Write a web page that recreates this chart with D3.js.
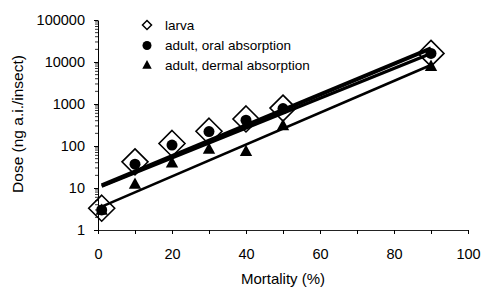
<!DOCTYPE html>
<html><head><meta charset="utf-8">
<script src="https://cdn.jsdelivr.net/npm/d3@7"></script>
<style>
body{margin:0;background:#fff;}
svg text{font-family:"Liberation Sans",Arial,sans-serif;fill:#000;}
</style></head>
<body><svg id="c" width="481" height="288"></svg>
<script>
const mortality = [1, 10, 20, 30, 40, 50, 90];
const larva = [3.3, 42, 115, 225, 440, 800, 16000];
const adultOral = [3.0, 37, 105, 220, 410, 780, 16000];
const adultDermal = [3.0, 12.5, 40, 85, 75, 310, 8000];
const fitX = [1, 90];
const larvaFit = [11.5, 21000];
const oralFit = [11, 16000];
const dermalFit = [3.6, 8500];
const xTicks = [0, 20, 40, 60, 80, 100];
const xMinorTicks = [10, 30, 50, 70, 90];
const yTicks = [1, 10, 100, 1000, 10000, 100000];
const legendLabels = ["larva", "adult, oral absorption", "adult, dermal absorption"];

const svg = d3.select("#c");
const x = d3.scaleLinear().domain([0, 100]).range([98, 468]);
const y = d3.scaleLog().domain([1, 100000]).range([230, 20]);

// x axis
const xAxis = svg.append("g").attr("transform", "translate(0,230)")
  .call(d3.axisBottom(x).tickValues(xTicks.concat(xMinorTicks)).tickSize(4).tickSizeOuter(0).tickPadding(15)
    .tickFormat(d => xTicks.includes(d) ? d : ""));
xAxis.selectAll("text").style("font-size", "14.5px");
xAxis.select(".domain").attr("stroke", "#222");

// y axis
const yAxis = svg.append("g").attr("transform", "translate(98,0)")
  .call(d3.axisLeft(y).tickValues(yTicks).tickSize(4).tickSizeOuter(0).tickPadding(9).tickFormat(d3.format("d")));
yAxis.selectAll("text").style("font-size", "14.5px");
// minor log ticks
const minor = [];
for (let k = 0; k < 5; k++) for (let m = 2; m <= 9; m++) minor.push(m * Math.pow(10, k));
yAxis.selectAll(".minor").data(minor).enter().append("line").attr("class", "minor")
  .attr("x1", -3).attr("x2", 0).attr("y1", d => y(d)).attr("y2", d => y(d))
  .attr("stroke", "#000").attr("stroke-width", 0.8);

// axis titles
svg.append("text").attr("x", 283).attr("y", 284).attr("text-anchor", "middle")
  .style("font-size", "15px").text("Mortality (%)");
svg.append("text").attr("transform", "translate(23,124) rotate(-90)").attr("text-anchor", "middle")
  .style("font-size", "15.5px").text("Dose (ng a.i./insect)");

// fit lines
const line = d3.line().x(d => x(d[0])).y(d => y(d[1]));
svg.append("path").attr("d", line(fitX.map((v, i) => [v, dermalFit[i]])))
  .attr("stroke", "#000").attr("stroke-width", 2.6).attr("fill", "none");
svg.append("path").attr("d", line(fitX.map((v, i) => [v, oralFit[i]])))
  .attr("stroke", "#000").attr("stroke-width", 3.2).attr("fill", "none");
svg.append("path").attr("d", line(fitX.map((v, i) => [v, larvaFit[i]])))
  .attr("stroke", "#000").attr("stroke-width", 4).attr("fill", "none");

// markers
const diamond = s => `M0,${-s}L${s},0L0,${s}L${-s},0Z`;
const tri = s => `M0,${-s}L${s*0.95},${s*0.75}L${-s*0.95},${s*0.75}Z`;

svg.selectAll(".tri").data(mortality.map((m, i) => [m, adultDermal[i]])).enter()
  .append("path").attr("d", tri(6.5)).attr("transform", d => `translate(${x(d[0])},${y(d[1])})`)
  .attr("fill", "#000");
svg.selectAll(".dia").data(mortality.map((m, i) => [m, larva[i]])).enter()
  .append("path").attr("d", diamond(13)).attr("transform", d => `translate(${x(d[0])},${y(d[1])})`)
  .attr("fill", "none").attr("stroke", "#000").attr("stroke-width", 1.6);
svg.selectAll(".dot").data(mortality.map((m, i) => [m, adultOral[i]])).enter()
  .append("circle").attr("r", 5.5).attr("cx", d => x(d[0])).attr("cy", d => y(d[1]))
  .attr("fill", "#000");

// legend
const lg = svg.append("g");
const ly = [25, 45.5, 65];
lg.append("path").attr("d", diamond(4.5)).attr("transform", `translate(147,${ly[0]})`)
  .attr("fill", "#fff").attr("stroke", "#000").attr("stroke-width", 1.5);
lg.append("circle").attr("cx", 147).attr("cy", ly[1]).attr("r", 4.5).attr("fill", "#000");
lg.append("path").attr("d", tri(5)).attr("transform", `translate(147,${ly[2]})`).attr("fill", "#000");
legendLabels.forEach((t, i) => {
  lg.append("text").attr("x", 165).attr("y", ly[i]).attr("dy", "0.35em")
    .style("font-size", "13.5px").text(t);
});
</script></body></html>
